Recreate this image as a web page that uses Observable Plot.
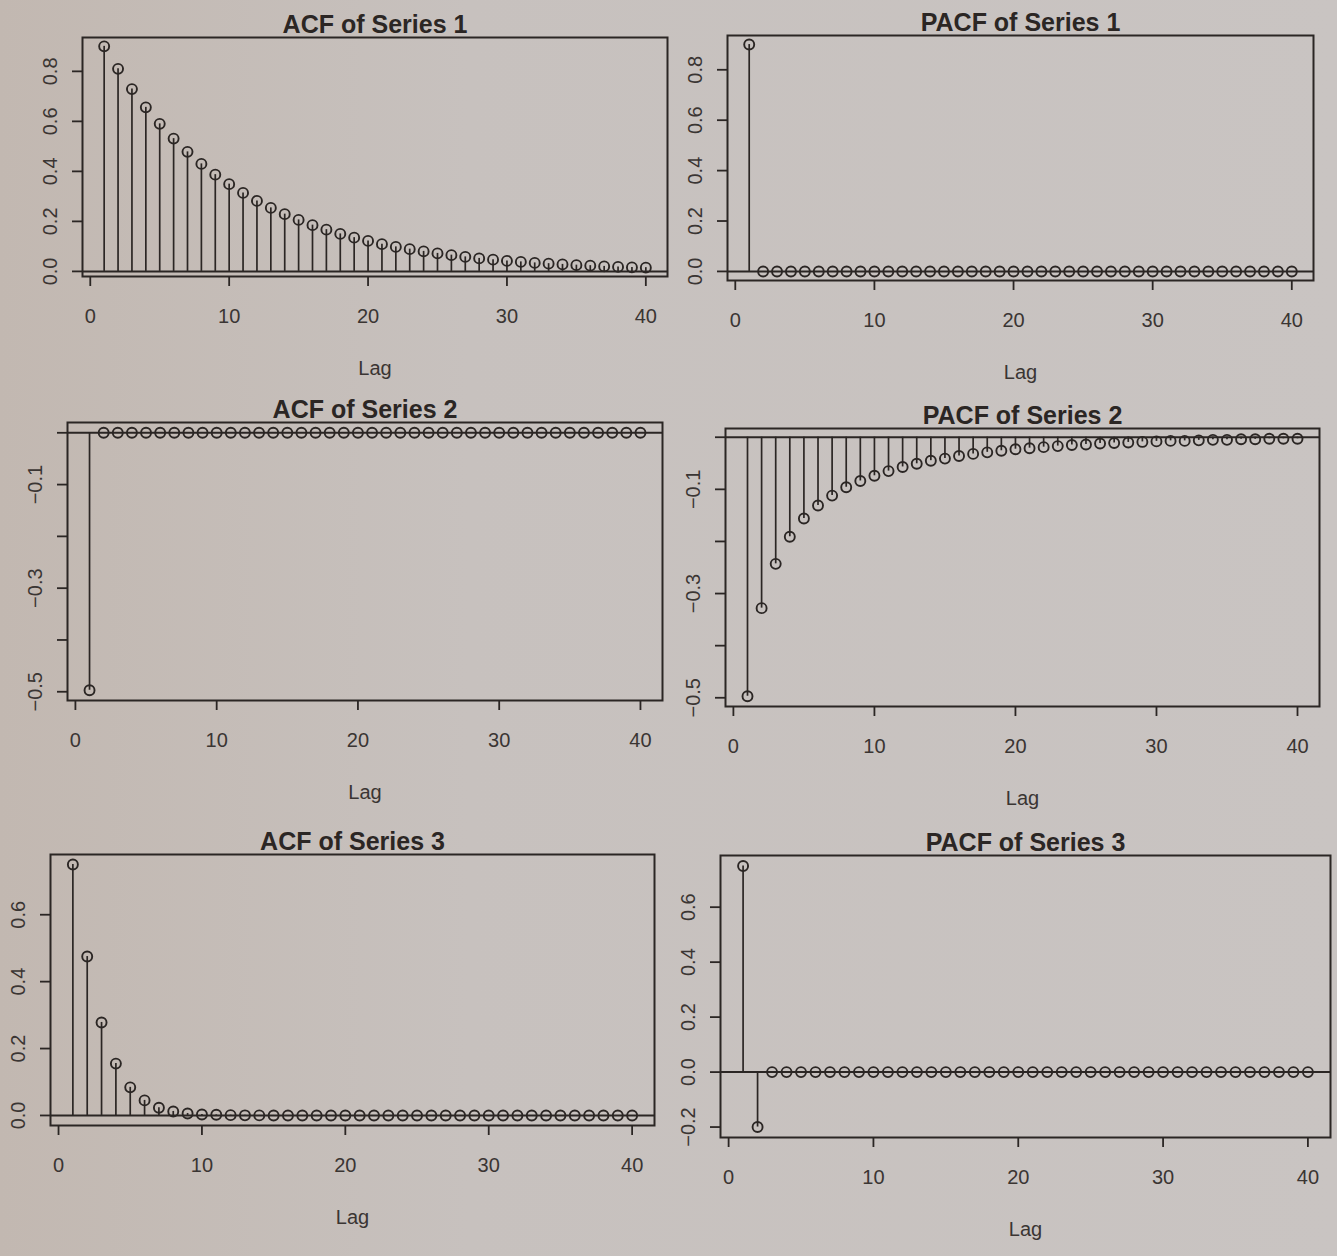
<!DOCTYPE html>
<html>
<head>
<meta charset="utf-8">
<script src="https://cdn.jsdelivr.net/npm/d3@7"></script>
<script src="https://cdn.jsdelivr.net/npm/@observablehq/plot@0.6"></script>
<style>
html, body { margin: 0; padding: 0; }
body {
  width: 1337px; height: 1256px; overflow: hidden;
  background: linear-gradient(90deg, #c2b8b1 0%, #c7c1be 35%, #c9c4c2 100%);
  font-family: "Liberation Sans", Arial, Helvetica, sans-serif;
}
#page { position: relative; width: 1337px; height: 1256px; }
.panel { position: absolute; }
.panel g[aria-label="x-axis tick"], .panel g[aria-label="y-axis tick"] { stroke-width: 1.8px; }
.panel g[aria-label="x-axis tick label"], .panel g[aria-label="y-axis tick label"] { fill: #3a3533; }
</style>
</head>
<body>
<div id="page"></div>
<script>
// ---------- data ----------
const lags = [1,2,3,4,5,6,7,8,9,10,11,12,13,14,15,16,17,18,19,20,
              21,22,23,24,25,26,27,28,29,30,31,32,33,34,35,36,37,38,39,40];

const acf1 = [0.900,0.810,0.729,0.656,0.590,0.531,0.478,0.430,0.387,0.349,
              0.314,0.282,0.254,0.229,0.206,0.185,0.167,0.150,0.135,0.122,
              0.109,0.098,0.089,0.080,0.072,0.065,0.058,0.052,0.047,0.042,
              0.038,0.034,0.031,0.028,0.025,0.023,0.020,0.018,0.016,0.015];

const pacf1 = [0.900,0,0,0,0,0,0,0,0,0,0,0,0,0,0,0,0,0,0,0,
               0,0,0,0,0,0,0,0,0,0,0,0,0,0,0,0,0,0,0,0];

const acf2 = [-0.497,0,0,0,0,0,0,0,0,0,0,0,0,0,0,0,0,0,0,0,
              0,0,0,0,0,0,0,0,0,0,0,0,0,0,0,0,0,0,0,0];

const pacf2 = [-0.497,-0.328,-0.243,-0.191,-0.156,-0.131,-0.112,-0.096,-0.084,-0.074,
               -0.065,-0.057,-0.051,-0.045,-0.041,-0.036,-0.032,-0.029,-0.026,-0.023,
               -0.021,-0.019,-0.017,-0.015,-0.014,-0.012,-0.011,-0.010,-0.009,-0.008,
               -0.007,-0.007,-0.006,-0.005,-0.005,-0.004,-0.004,-0.003,-0.003,-0.003];

const acf3 = [0.750,0.475,0.278,0.155,0.084,0.045,0.023,0.012,0.006,0.003,
              0.002,0.001,0.0004,0.0002,0.0001,0,0,0,0,0,
              0,0,0,0,0,0,0,0,0,0,0,0,0,0,0,0,0,0,0,0];

const pacf3 = [0.750,-0.200,0,0,0,0,0,0,0,0,0,0,0,0,0,0,0,0,0,0,
               0,0,0,0,0,0,0,0,0,0,0,0,0,0,0,0,0,0,0,0];

const titles = ["ACF of Series 1","PACF of Series 1","ACF of Series 2",
                "PACF of Series 2","ACF of Series 3","PACF of Series 3"];
const xLabel = "Lag";

const xTicks = [0,10,20,30,40];
const xTickLabels = ["0","10","20","30","40"];

const yTicksS1 = [0,0.2,0.4,0.6,0.8];
const yLabelsS1 = ["0.0","0.2","0.4","0.6","0.8"];
const yTicksS2 = [-0.5,-0.4,-0.3,-0.2,-0.1,0];
const yLabelsS2 = ["\u22120.5","","\u22120.3","","\u22120.1",""];
const yTicksA3 = [0,0.2,0.4,0.6];
const yLabelsA3 = ["0.0","0.2","0.4","0.6"];
const yTicksP3 = [-0.2,0,0.2,0.4,0.6];
const yLabelsP3 = ["\u22120.2","0.0","0.2","0.4","0.6"];

// ---------- panel setup ----------
const panels = [
  {title: titles[0], values: acf1,  yTicks: yTicksS1, yLabels: yLabelsS1},
  {title: titles[1], values: pacf1, yTicks: yTicksS1, yLabels: yLabelsS1},
  {title: titles[2], values: acf2,  yTicks: yTicksS2, yLabels: yLabelsS2},
  {title: titles[3], values: pacf2, yTicks: yTicksS2, yLabels: yLabelsS2},
  {title: titles[4], values: acf3,  yTicks: yTicksA3, yLabels: yLabelsA3},
  {title: titles[5], values: pacf3, yTicks: yTicksP3, yLabels: yLabelsP3}
];

// plot-region boxes on the page (layout only)
const layout = [
  {left: 82,  top: 37,  right: 667,  bottom: 276},
  {left: 727, top: 35,  right: 1313, bottom: 280},
  {left: 67,  top: 422, right: 662,  bottom: 700},
  {left: 725, top: 428, right: 1319, bottom: 706},
  {left: 50,  top: 854, right: 654,  bottom: 1125},
  {left: 720, top: 855, right: 1330, bottom: 1137}
];

const ink = "#2b2624";
const font = "'Liberation Sans', Arial, Helvetica, sans-serif";

function pad4(ext) {
  const r = ext[1] - ext[0];
  return [ext[0] - 0.04 * r, ext[1] + 0.04 * r];
}
function lookup(ticks, labels) {
  return v => {
    const k = ticks.findIndex(t => Math.abs(t - v) < 1e-9);
    return k < 0 ? "" : labels[k];
  };
}

const page = document.getElementById("page");
const mL = 80, mR = 12, mT = 48, mB = 115;

panels.forEach((p, i) => {
  const g = layout[i];
  const data = lags.map((lag, j) => ({lag, value: p.values[j]}));
  const chart = Plot.plot({
    width: g.right - g.left + mL + mR,
    height: g.bottom - g.top + mT + mB,
    marginLeft: mL, marginRight: mR, marginTop: mT, marginBottom: mB,
    style: {background: "transparent", color: ink, fontFamily: font, fontSize: "20px",
            overflow: "visible", maxWidth: "none"},
    x: {domain: pad4(d3.extent(lags)), ticks: xTicks, tickFormat: lookup(xTicks, xTickLabels),
        tickSize: 10, tickPadding: 22, label: null},
    y: {domain: pad4(d3.extent(p.values)), ticks: p.yTicks, tickFormat: lookup(p.yTicks, p.yLabels),
        tickSize: 10, tickPadding: 16, tickRotate: -90, label: null},
    marks: [
      Plot.frame({stroke: ink, strokeWidth: 2}),
      Plot.ruleY([0], {stroke: ink, strokeWidth: 2}),
      Plot.ruleX(data, {x: "lag", y1: 0, y2: "value", stroke: ink, strokeWidth: 1.7}),
      Plot.dot(data, {x: "lag", y: "value", r: 5, stroke: ink, strokeWidth: 1.9, fill: "none"}),
      Plot.text([p.title], {text: d => d, frameAnchor: "top", dy: -5, lineAnchor: "bottom",
                            fontSize: 25, fontWeight: "bold", fill: ink}),
      Plot.text([xLabel], {text: d => d, frameAnchor: "bottom", dy: 92, lineAnchor: "middle",
                           fontSize: 20, fill: "#3a3533"})
    ]
  });
  const wrap = document.createElement("div");
  wrap.className = "panel";
  wrap.style.left = (g.left - mL) + "px";
  wrap.style.top = (g.top - mT) + "px";
  wrap.appendChild(chart);
  page.appendChild(wrap);
});
</script>
</body>
</html>
